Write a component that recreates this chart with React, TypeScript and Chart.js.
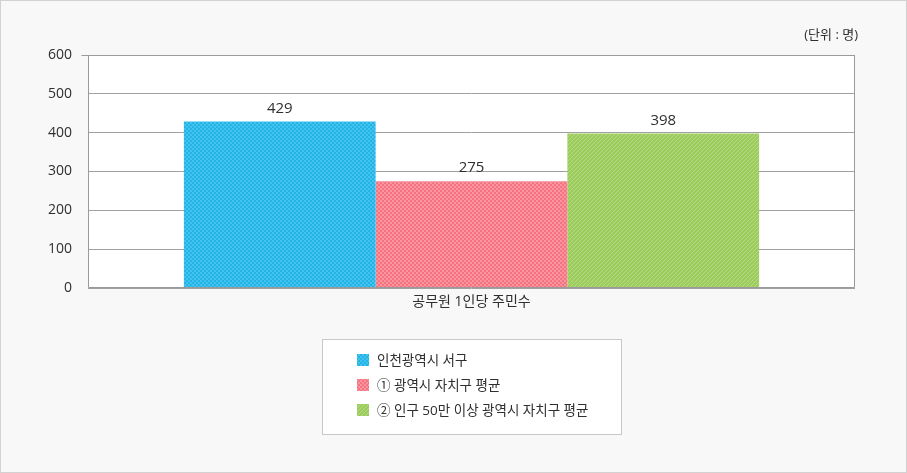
import React, { useEffect, useRef } from "react";
import { Chart, registerables } from "chart.js";

Chart.register(...registerables);

const categories = ["공무원 1인당 주민수"];
const seriesLabels = ["인천광역시 서구", "① 광역시 자치구 평균", "② 인구 50만 이상 광역시 자치구 평균"];
const seriesValues = [[429], [275], [398]];
const yTicks = [0, 100, 200, 300, 400, 500, 600];
const unitText = "(단위 : 명)";

const FONT = '"Open Sans", "Noto Sans CJK KR", sans-serif';

function makePattern(kind: number): CanvasPattern | string {
  const c = document.createElement("canvas");
  c.width = 4;
  c.height = 4;
  const g = c.getContext("2d");
  if (!g) return "#999";
  if (kind === 0) {
    g.fillStyle = "#22b4e6";
    g.fillRect(0, 0, 4, 4);
    g.fillStyle = "#45c3ef";
    g.fillRect(0, 0, 2, 2);
    g.fillRect(2, 2, 2, 2);
  } else if (kind === 1) {
    g.fillStyle = "#f5737f";
    g.fillRect(0, 0, 4, 4);
    g.fillStyle = "#f995a0";
    g.fillRect(0, 0, 2, 2);
    g.fillRect(2, 2, 2, 2);
  } else {
    g.fillStyle = "#9ccd5c";
    g.fillRect(0, 0, 4, 4);
    g.fillStyle = "#b6da86";
    g.fillRect(0, 0, 1, 1);
    g.fillRect(2, 2, 1, 1);
    g.fillRect(1, 3, 1, 1);
    g.fillRect(3, 1, 1, 1);
  }
  const p = g.createPattern(c, "repeat");
  return p || "#999";
}

const decorPlugin = {
  id: "decor",
  beforeDraw(chart: any) {
    const { ctx, width, height, chartArea } = chart;
    ctx.save();
    ctx.fillStyle = "#f8f8f8";
    ctx.fillRect(0, 0, width, height);
    ctx.strokeStyle = "#d2d2d2";
    ctx.lineWidth = 1;
    ctx.strokeRect(0.5, 0.5, width - 1, height - 1);
    ctx.fillStyle = "#ffffff";
    ctx.fillRect(chartArea.left, chartArea.top, chartArea.right - chartArea.left, chartArea.bottom - chartArea.top);
    ctx.restore();
  },
  afterDraw(chart: any) {
    const { ctx, chartArea } = chart;
    ctx.save();
    // plot border
    ctx.strokeStyle = "#9a9a9a";
    ctx.lineWidth = 1;
    const l = Math.round(chartArea.left) + 0.5;
    const t = Math.round(chartArea.top) + 0.5;
    const r = Math.round(chartArea.right) - 0.5;
    const b = Math.round(chartArea.bottom) - 0.5;
    ctx.beginPath();
    ctx.moveTo(l - 7, t);
    ctx.lineTo(r, t);
    ctx.lineTo(r, b);
    ctx.lineTo(l, b);
    ctx.lineTo(l, t);
    ctx.stroke();

    // data labels
    ctx.fillStyle = "#2f2f2f";
    ctx.font = `15px ${FONT}`;
    ctx.textAlign = "center";
    ctx.textBaseline = "middle";
    chart.data.datasets.forEach((ds: any, i: number) => {
      const meta = chart.getDatasetMeta(i);
      meta.data.forEach((el: any, j: number) => {
        ctx.fillText(String(ds.data[j]), el.x, el.y - 13);
      });
    });

    // unit text
    ctx.font = `13px ${FONT}`;
    ctx.textAlign = "right";
    ctx.fillText(unitText, 858, 35);

    // legend box
    const bx = 322.5, by = 339.5, bw = 299, bh = 95;
    ctx.fillStyle = "#ffffff";
    ctx.fillRect(bx, by, bw, bh);
    ctx.strokeStyle = "#c8c8c8";
    ctx.strokeRect(bx, by, bw, bh);
    ctx.textAlign = "left";
    ctx.font = `13.5px ${FONT}`;
    chart.data.datasets.forEach((ds: any, i: number) => {
      const cy = 360 + i * 25;
      ctx.fillStyle = ds.backgroundColor;
      ctx.fillRect(357, cy - 6, 12, 12);
      ctx.fillStyle = "#2f2f2f";
      ctx.fillText(ds.label, 377, cy + 1);
    });
    ctx.restore();
  },
};

export default function App() {
  const ref = useRef<HTMLCanvasElement | null>(null);
  useEffect(() => {
    document.body.style.margin = "0";
    if (!ref.current) return;
    const chart = new Chart(ref.current, {
      type: "bar",
      data: {
        labels: categories,
        datasets: seriesLabels.map((label, i) => ({
          label,
          data: seriesValues[i],
          backgroundColor: makePattern(i) as any,
          borderWidth: 0,
          categoryPercentage: 0.75,
          barPercentage: 1.0,
        })),
      },
      options: {
        animation: false,
        responsive: true,
        maintainAspectRatio: false,
        layout: { padding: { top: 55, right: 52, left: 0, bottom: 0 } },
        plugins: {
          legend: { display: false },
          tooltip: { enabled: false },
        },
        scales: {
          x: {
            grid: { display: false, drawTicks: false },
            border: { display: false },
            ticks: { color: "#2f2f2f", font: { size: 14, family: FONT }, padding: 6 },
            afterFit: (s: any) => {
              s.height = 185;
            },
          },
          y: {
            min: 0,
            max: 600,
            afterBuildTicks: (s: any) => {
              s.ticks = yTicks.map((v) => ({ value: v }));
            },
            grid: { color: "#a0a0a0", drawTicks: false, lineWidth: 1 },
            border: { display: false },
            ticks: { color: "#2f2f2f", font: { size: 14, family: FONT }, padding: 16 },
            afterFit: (s: any) => {
              s.width = 88;
            },
          },
        },
      },
      plugins: [decorPlugin],
    });
    return () => chart.destroy();
  }, []);
  return (
    <div style={{ position: "absolute", left: 0, top: 0, width: 907, height: 473 }}>
      <canvas ref={ref} />
    </div>
  );
}
